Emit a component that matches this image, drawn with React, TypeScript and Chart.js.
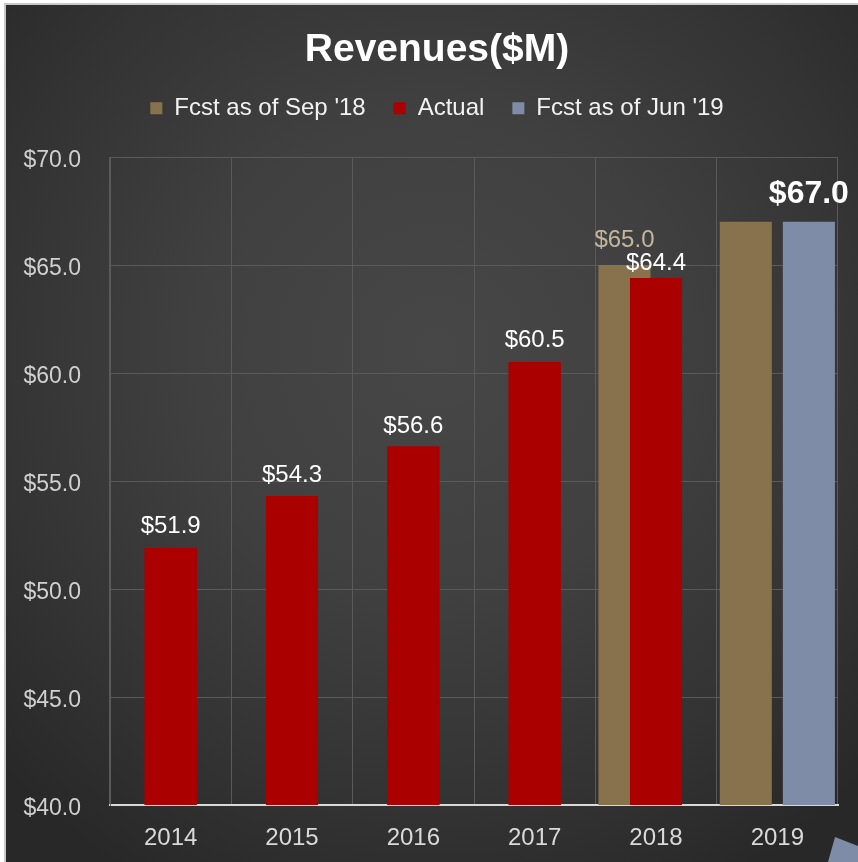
import React, { useEffect, useRef } from "react";
import { Chart, registerables } from "chart.js";

Chart.register(...registerables);

const categories = ["2014", "2015", "2016", "2017", "2018", "2019"];
const fcstSep18 = [null, null, null, null, 65.0, 67.0];
const actual = [51.9, 54.3, 56.6, 60.5, 64.4, null];
const fcstJun19 = [null, null, null, null, null, 67.0];
const seriesNames = ["Fcst as of Sep '18", "Actual", "Fcst as of Jun '19"];
const yTicks = [40, 45, 50, 55, 60, 65, 70];

const FONT = "'Liberation Sans', Arial, sans-serif";
const TAN = "#88724d";
const RED = "#aa0000";
const BLUE = "#7f8ca8";
const GRID = "#5a5a5a";

const legendHeightPlugin = {
  id: "legendHeight",
  beforeLayout(chart: any) {
    const lg = chart.legend;
    if (lg && !lg._patchedFit) {
      const orig = lg.fit;
      lg.fit = function () {
        orig.call(this);
        this.height = 88.8;
      };
      lg._patchedFit = true;
    }
  },
};

const overlayPlugin = {
  id: "overlayLabels",
  afterDatasetsDraw(chart: any, _args: any, opts: any) {
    const ctx = chart.ctx;
    const area = chart.chartArea;
    // redraw Actual bars on top of the forecast bars (Excel overlap order)
    const redMeta = chart.getDatasetMeta(1);
    const redData = chart.data.datasets[1].data;
    ctx.save();
    ctx.beginPath();
    ctx.rect(area.left, area.top, area.right - area.left, area.bottom - area.top);
    ctx.clip();
    redMeta.data.forEach((el: any, i: number) => {
      if (redData[i] !== null) el.draw(ctx);
    });
    ctx.restore();

    const cfg = opts.labels || [];
    ctx.save();
    ctx.textAlign = "center";
    ctx.textBaseline = "middle";
    chart.data.datasets.forEach((ds: any, di: number) => {
      const c = cfg[di];
      if (!c) return;
      const meta = chart.getDatasetMeta(di);
      ds.data.forEach((v: any, i: number) => {
        if (v === null || v === undefined) return;
        const off = c.offsets[i];
        if (off === null || off === undefined) return;
        const el = meta.data[i];
        ctx.fillStyle = c.color;
        ctx.font = c.font;
        ctx.fillText("$" + Number(v).toFixed(1), el.x, el.y - off);
      });
    });
    ctx.restore();
  },
};

export default function App() {
  const ref = useRef<HTMLCanvasElement | null>(null);

  useEffect(() => {
    document.body.style.margin = "0";
    const canvas = ref.current;
    if (!canvas) return;
    const chart = new Chart(canvas, {
      type: "bar",
      data: {
        labels: categories,
        datasets: [
          { label: seriesNames[0], data: fcstSep18 as any, backgroundColor: TAN, borderWidth: 0 },
          { label: seriesNames[1], data: actual as any, backgroundColor: RED, borderWidth: 0 },
          { label: seriesNames[2], data: fcstJun19 as any, backgroundColor: BLUE, borderWidth: 0 },
        ],
      },
      options: {
        responsive: false,
        animation: false,
        events: [],
        datasets: {
          bar: { categoryPercentage: 0.78, barPercentage: 1.65 },
        },
        layout: { padding: { left: 36, right: 20, top: 0, bottom: 0 } },
        plugins: {
          title: {
            display: true,
            text: "Revenues($M)",
            color: "#ffffff",
            font: { family: FONT, size: 39, weight: "bold", lineHeight: 1.0 },
            padding: { top: 31, bottom: -1.8 },
          },
          legend: {
            display: true,
            position: "top",
            labels: {
              color: "#f2f2f2",
              font: { family: FONT, size: 24, lineHeight: 1.15 },
              boxWidth: 12,
              boxHeight: 12,
              padding: 28,
            },
          },
          tooltip: { enabled: false },
          overlayLabels: {
            labels: [
              { color: "#c4b69c", font: `24px ${FONT}`, offsets: [null, null, null, null, 25, null] },
              { color: "#ffffff", font: `24px ${FONT}`, offsets: [22, 21, 20, 22, 15, null] },
              { color: "#ffffff", font: `bold 32px ${FONT}`, offsets: [null, null, null, null, null, 28] },
            ],
          },
        } as any,
        scales: {
          x: {
            grid: { color: GRID, lineWidth: 1, drawTicks: false, offset: true },
            border: { display: true, color: "#d9d9d9", width: 2 },
            ticks: { color: "#d9d9d9", font: { family: FONT, size: 24 }, padding: 19 },
            afterFit: (s: any) => {
              s.height = 57;
            },
          },
          y: {
            min: yTicks[0],
            max: yTicks[yTicks.length - 1],
            grid: { color: GRID, lineWidth: 1, drawTicks: false },
            border: { display: true, color: GRID, width: 1 },
            afterBuildTicks: (s: any) => {
              s.ticks = yTicks.map((v) => ({ value: v }));
            },
            ticks: {
              color: "#d0d0d0",
              font: { family: FONT, size: 23 },
              padding: 29,
              labelOffset: 4,
              callback: (v: any) => "$" + Number(v).toFixed(1),
            },
            afterFit: (s: any) => {
              s.width = 74;
              // let the tick labels extend left of the scale box (into the layout padding)
              s._computeLabelArea = () => undefined;
            },
          },
        },
      },
      plugins: [legendHeightPlugin, overlayPlugin],
    });
    return () => chart.destroy();
  }, []);

  return (
    <div style={{ position: "relative", width: 858, height: 862, overflow: "hidden", background: "#ffffff" }}>
      <div
        style={{
          position: "absolute",
          left: 4,
          top: 3,
          width: 860,
          height: 866,
          borderLeft: "2px solid #c8c8c8",
          borderTop: "2px solid #c8c8c8",
          background:
            "radial-gradient(ellipse 70% 70% at 50% 40%, #474747 0%, #404040 40%, #333333 75%, #282828 100%)",
        }}
      />
      <div
        style={{
          position: "absolute",
          left: 0,
          top: 0,
          width: 858,
          height: 862,
          background: BLUE,
          clipPath: "polygon(835px 837px, 858px 846px, 858px 862px, 828px 862px)",
        }}
      />
      <canvas ref={ref} width={858} height={862} style={{ position: "absolute", left: 0, top: 0 }} />
    </div>
  );
}
